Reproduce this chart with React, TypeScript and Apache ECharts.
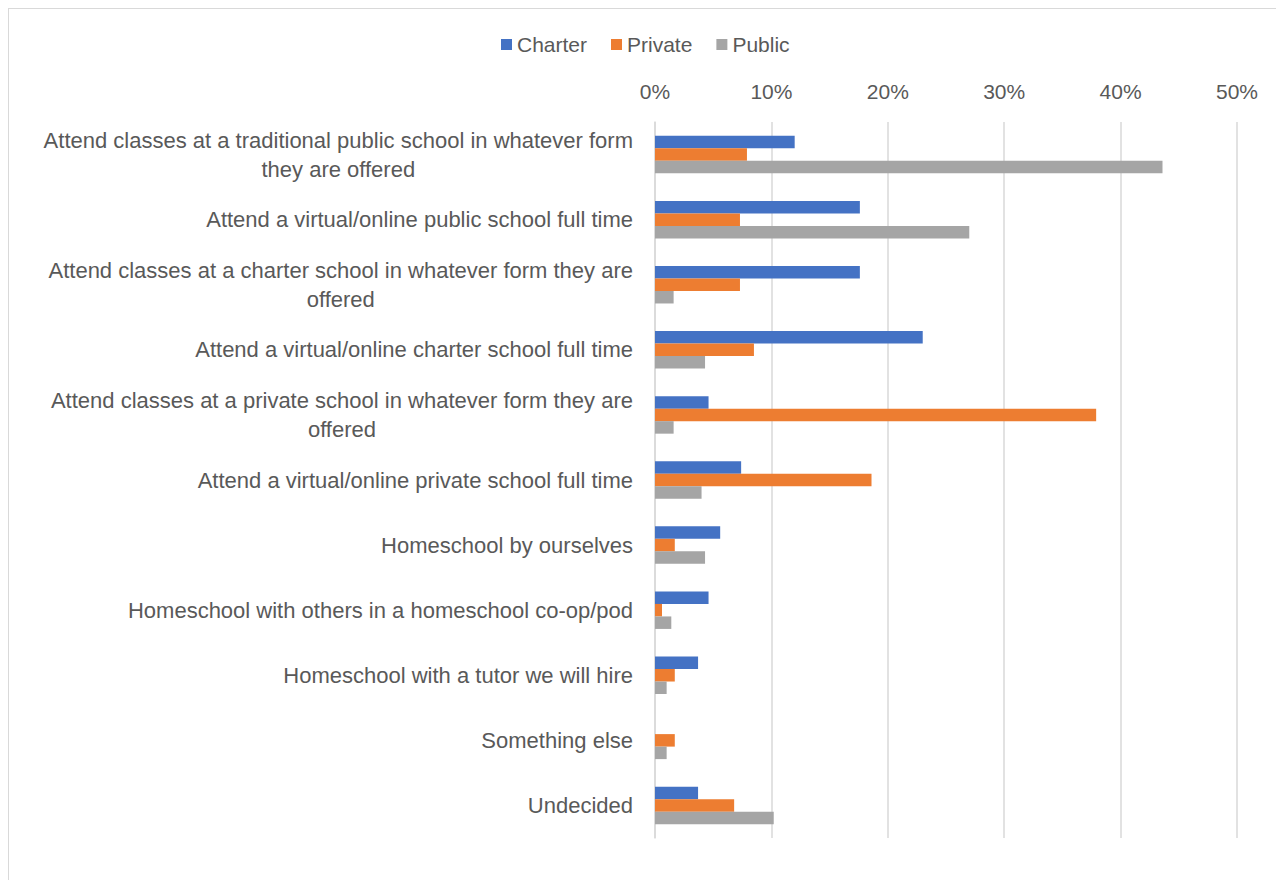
import React, { useEffect, useRef } from "react";
import * as echarts from "echarts";

const categories = [
  "Attend classes at a traditional public school in whatever form\nthey are offered",
  "Attend a virtual/online public school full time",
  "Attend classes at a charter school in whatever form they are\noffered",
  "Attend a virtual/online charter school full time",
  "Attend classes at a private school in whatever form they are\noffered",
  "Attend a virtual/online private school full time",
  "Homeschool by ourselves",
  "Homeschool with others in a homeschool co-op/pod",
  "Homeschool with a tutor we will hire",
  "Something else",
  "Undecided",
];

const charter = [12.0, 17.6, 17.6, 23.0, 4.6, 7.4, 5.6, 4.6, 3.7, 0, 3.7];
const privateVals = [7.9, 7.3, 7.3, 8.5, 37.9, 18.6, 1.7, 0.6, 1.7, 1.7, 6.8];
const publicVals = [43.6, 27.0, 1.6, 4.3, 1.6, 4.0, 4.3, 1.4, 1.0, 1.0, 10.2];

const xTicks = { min: 0, max: 50, interval: 10 };

const FONT = "Liberation Sans";
const TXT = "#595959";

export default function App() {
  const ref = useRef<HTMLDivElement>(null);
  useEffect(() => {
    if (!ref.current) return;
    const chart = echarts.init(ref.current, undefined, { renderer: "svg" });
    const barStyle = (color: string) => ({
      type: "bar" as const,
      barWidth: 12.5,
      barGap: "0%",
      itemStyle: { color },
    });
    chart.setOption({
      animation: false,
      textStyle: { fontFamily: FONT },
      legend: {
        left: 487,
        top: 20,
        itemWidth: 11,
        itemHeight: 11,
        itemGap: 24,
        icon: "rect",
        textStyle: { color: TXT, fontSize: 21, fontFamily: FONT },
        data: ["Charter", "Private", "Public"],
      },
      grid: { left: 646, top: 113, width: 582, height: 716 },
      xAxis: {
        type: "value",
        position: "top",
        min: xTicks.min,
        max: xTicks.max,
        interval: xTicks.interval,
        axisLine: { show: false },
        axisTick: { show: false },
        axisLabel: {
          formatter: "{value}%",
          color: TXT,
          fontSize: 21,
          fontFamily: FONT,
          margin: 20,
        },
        splitLine: { lineStyle: { color: "#d9d9d9", width: 1.5 } },
      },
      yAxis: {
        type: "category",
        inverse: true,
        data: categories,
        axisLine: { show: true, lineStyle: { color: "#d9d9d9", width: 1.5 } },
        axisTick: { show: false },
        axisLabel: {
          margin: 22,
          color: TXT,
          fontSize: 22,
          fontFamily: FONT,
          formatter: (v: string) =>
            v
              .split("\n")
              .map((l) => `{c|${l}}`)
              .join("\n"),
          rich: {
            c: {
              align: "center",
              fontSize: 22,
              color: TXT,
              fontFamily: FONT,
              lineHeight: 29,
            },
          },
        },
      },
      series: [
        { name: "Charter", data: charter, ...barStyle("#4472C4") },
        { name: "Private", data: privateVals, ...barStyle("#ED7D31") },
        { name: "Public", data: publicVals, ...barStyle("#A5A5A5") },
      ],
    });
    return () => chart.dispose();
  }, []);
  return (
    <div
      ref={ref}
      style={{
        width: 1276,
        height: 872,
        boxSizing: "border-box",
        borderTop: "1px solid #d9d9d9",
        borderLeft: "1px solid #d9d9d9",
        background: "#fff",
      }}
    />
  );
}
